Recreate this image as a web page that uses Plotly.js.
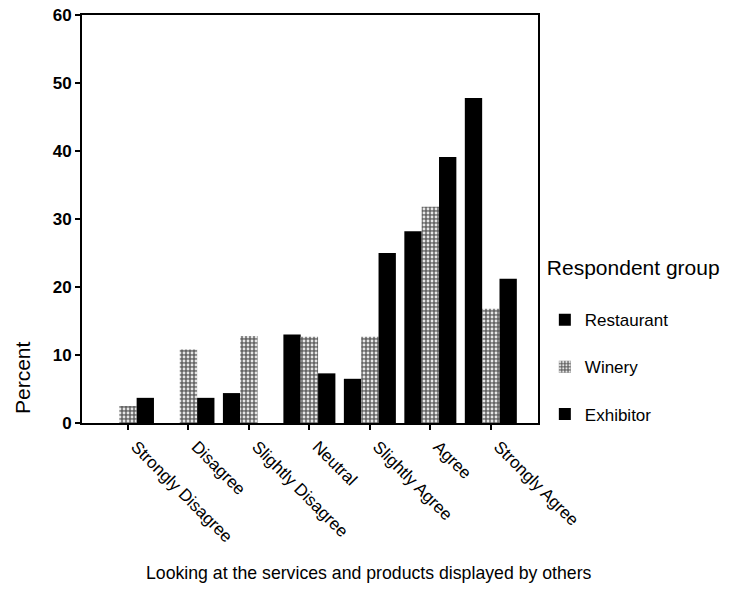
<!DOCTYPE html>
<html>
<head>
<meta charset="utf-8">
<script src="https://cdn.plot.ly/plotly-3.0.1.min.js"></script>
<style>html,body{margin:0;padding:0;background:#fff;}#chart{width:740px;height:598px;}</style>
</head>
<body>
<div id="chart"></div>
<script>
const categories = ["Strongly Disagree", "Disagree", "Slightly Disagree", "Neutral", "Slightly Agree", "Agree", "Strongly Agree"];
const restaurant = [0, 0, 4.4, 13.0, 6.5, 28.2, 47.8];
const winery = [2.5, 10.8, 12.8, 12.7, 12.7, 31.8, 16.8];
const exhibitor = [3.7, 3.7, 0, 7.3, 25.0, 39.1, 21.2];
const yTicks = [0, 10, 20, 30, 40, 50, 60];
const seriesNames = ["Restaurant", "Winery", "Exhibitor"];
const legendTitle = "Respondent group";
const xTitle = "Looking at the services and products displayed by others";
const yTitle = "Percent";

const font = "Liberation Sans, Arial, sans-serif";
const traces = [
  {type: "bar", name: seriesNames[0], x: categories, y: restaurant, legendgroup: "a",
   marker: {color: "#000", line: {width: 0}}},
  {type: "bar", name: seriesNames[1], x: categories, y: winery, legendgroup: "b",
   marker: {color: "#666", line: {width: 0},
            pattern: {shape: ".", bgcolor: "#666", fgcolor: "#e6e6e6", fillmode: "replace", size: 4, solidity: 0.4}}},
  {type: "bar", name: seriesNames[2], x: categories, y: exhibitor, legendgroup: "c",
   marker: {color: "#000", line: {width: 0}}}
];

const layout = {
  width: 740, height: 598,
  margin: {l: 82, r: 202, t: 15, b: 175},
  paper_bgcolor: "#fff", plot_bgcolor: "#fff",
  font: {family: font, color: "#000", size: 13},
  barmode: "group", bargap: 0.14, bargroupgap: 0,
  showlegend: true,
  legend: {
    x: 1.015, xanchor: "left", y: 0.43, yanchor: "top",
    title: {text: legendTitle + "<br> ", font: {size: 21, family: font}},
    font: {size: 17, family: font},
    traceorder: "grouped", tracegroupgap: 22,
    itemwidth: 30,
    bgcolor: "rgba(0,0,0,0)"
  },
  xaxis: {
    type: "category", range: [-0.76, 6.78],
    showline: true, linecolor: "#000", linewidth: 2, mirror: true,
    ticks: "outside", ticklen: 5, tickwidth: 2, tickcolor: "#000",
    tickangle: 45, tickfont: {size: 17, family: font},
    ticklabelshift: 8,
    showgrid: false, zeroline: false, fixedrange: true
  },
  yaxis: {
    range: [0, 60], tickvals: yTicks, ticktext: yTicks.map(String),
    showline: true, linecolor: "#000", linewidth: 2, mirror: true,
    ticks: "outside", ticklen: 5, tickwidth: 2, tickcolor: "#000",
    tickfont: {size: 17, family: font, weight: "bold"},
    showgrid: false, zeroline: false, fixedrange: true
  },
  annotations: [
    {text: xTitle, xref: "paper", yref: "paper", x: (369 - 82) / 456, y: -(573 - 423) / 408,
     xanchor: "center", yanchor: "middle", showarrow: false, font: {size: 17.7, family: font}},
    {text: yTitle, xref: "paper", yref: "paper", x: -(82 - 22) / 456, y: (423 - 378) / 408,
     xanchor: "center", yanchor: "middle", textangle: -90, showarrow: false, font: {size: 21, family: font}}
  ]
};

Plotly.newPlot("chart", traces, layout, {displayModeBar: false, staticPlot: true});
</script>
</body>
</html>
